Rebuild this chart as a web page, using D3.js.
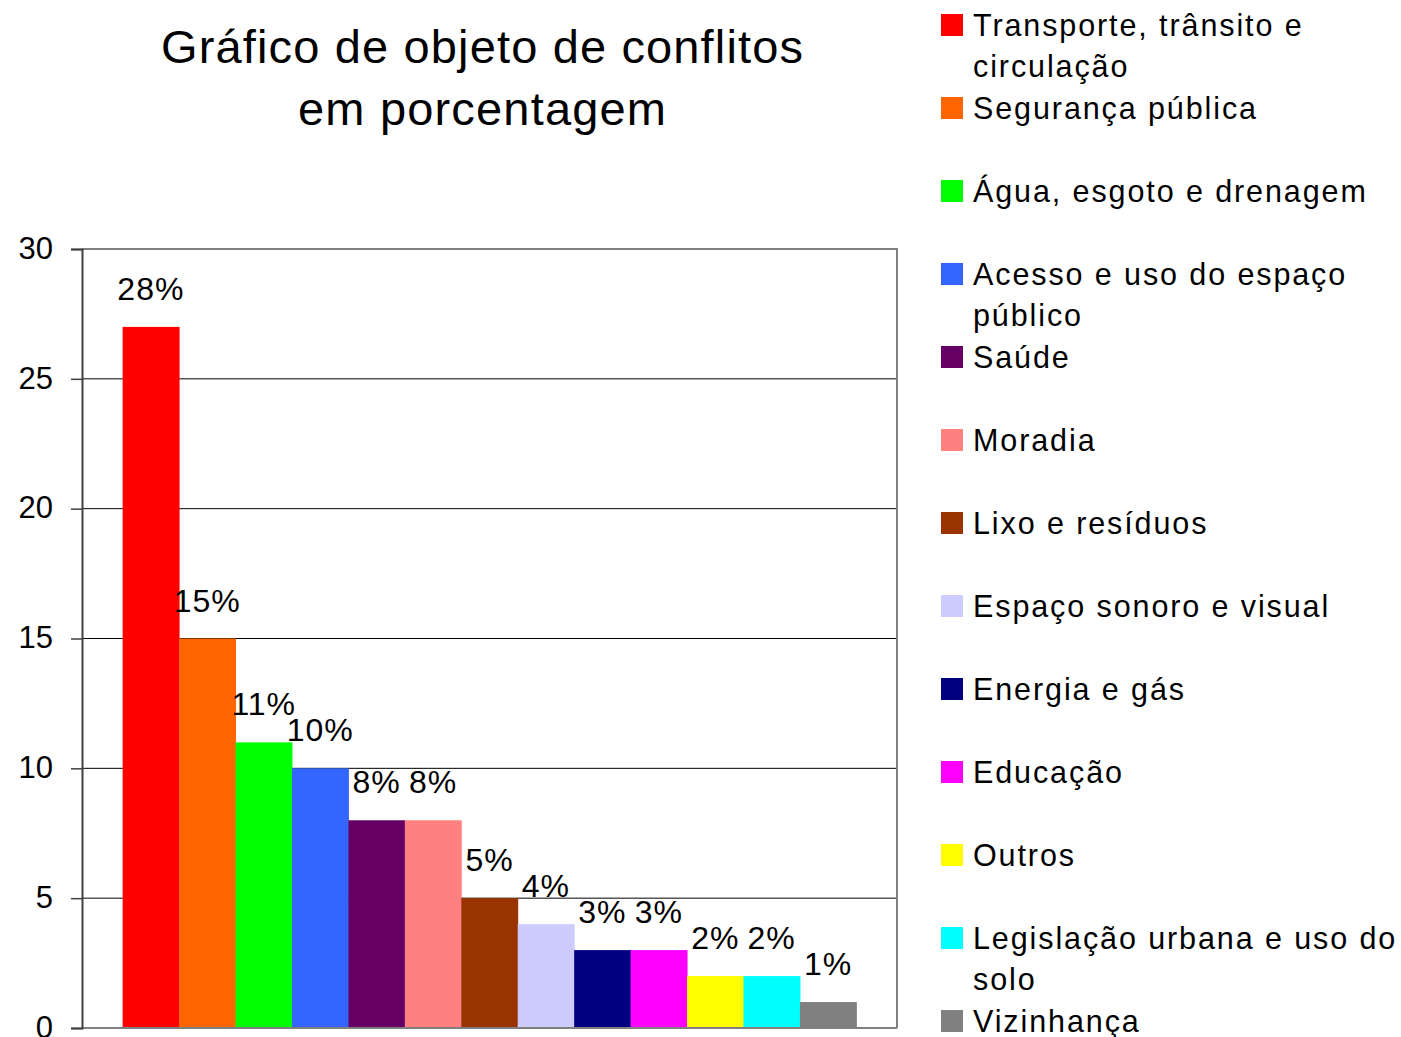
<!DOCTYPE html>
<html><head><meta charset="utf-8">
<script src="https://cdnjs.cloudflare.com/ajax/libs/d3/7.8.5/d3.min.js"></script>
<style>body{margin:0;background:#fff}svg{display:block;font-family:"Liberation Sans",Arial,sans-serif}</style>
</head><body><svg id="c" width="1401" height="1037"></svg>
<script>
const categories = ["Transporte, trânsito e circulação","Segurança pública","Água, esgoto e drenagem","Acesso e uso do espaço público","Saúde","Moradia","Lixo e resíduos","Espaço sonoro e visual","Energia e gás","Educação","Outros","Legislação urbana e uso do solo","Vizinhança"];
const values = [27,15,11,10,8,8,5,4,3,3,2,2,1];
const labels = ["28%","15%","11%","10%","8%","8%","5%","4%","3%","3%","2%","2%","1%"];
const colors = ["#FF0000","#FF6600","#00FF00","#3366FF","#660066","#FF8080","#993300","#CCCCFF","#000080","#FF00FF","#FFFF00","#00FFFF","#808080"];
const legendLines = [["Transporte, trânsito e","circulação"],["Segurança pública"],["Água, esgoto e drenagem"],["Acesso e uso do espaço","público"],["Saúde"],["Moradia"],["Lixo e resíduos"],["Espaço sonoro e visual"],["Energia e gás"],["Educação"],["Outros"],["Legislação urbana e uso do","solo"],["Vizinhança"]];
const yTicks = [0,5,10,15,20,25,30];
const titleLines = ["Gráfico de objeto de conflitos","em porcentagem"];

const svg = d3.select("#c");
const L=82, R=897, T=249, B=1028;
const x = d3.scaleBand().domain(categories).range([L,R]).paddingInner(0).paddingOuter(0.72);
const y = d3.scaleLinear().domain([0,30]).range([B,T]);

// gridlines
svg.append("g").selectAll("line").data(yTicks.filter(d=>d>0&&d<30)).join("line")
  .attr("x1",L).attr("x2",R).attr("y1",d=>y(d)).attr("y2",d=>y(d)).attr("stroke","#000").attr("stroke-width",1);

// bars
svg.append("g").selectAll("rect").data(values).join("rect")
  .attr("x",(d,i)=>x(categories[i])).attr("width",x.bandwidth()+0.5)
  .attr("y",d=>y(d)).attr("height",d=>B-y(d)).attr("fill",(d,i)=>colors[i]);

// frame
svg.append("path").attr("d",`M${L},${T}H${R}V${B}`).attr("fill","none").attr("stroke","#808080").attr("stroke-width",2);
svg.append("line").attr("x1",L).attr("x2",R).attr("y1",B).attr("y2",B).attr("stroke","#808080").attr("stroke-width",2);

// y axis
const ax = d3.axisLeft(y).tickValues(yTicks).tickSize(11).tickPadding(18).tickFormat(d3.format("d"));
const g = svg.append("g").attr("transform",`translate(${L},0)`).call(ax);
g.select(".domain").attr("stroke","#404040").attr("stroke-width",2);
g.selectAll(".tick line").attr("stroke","#404040").attr("stroke-width",1.5);
g.selectAll(".tick text").attr("font-size",31).attr("font-family","Liberation Sans, Arial, sans-serif").attr("fill","#000").attr("dy","0.3em");

// value labels
svg.append("g").selectAll("text").data(values).join("text")
  .attr("x",(d,i)=>x(categories[i])+x.bandwidth()/2).attr("y",d=>y(d)-27)
  .attr("text-anchor","middle").attr("font-size",32).attr("letter-spacing",1).text((d,i)=>labels[i]);

// title
const titleWidths = [642,368];
svg.append("g").selectAll("text").data(titleLines).join("text")
  .attr("x",(d,i)=>482-titleWidths[i]/2).attr("y",(d,i)=>63+i*62).attr("font-size",47)
  .attr("textLength",(d,i)=>titleWidths[i]).attr("lengthAdjust","spacing")
  .text(d=>d);

// legend
const lg = svg.append("g");
legendLines.forEach((lines,i)=>{
  const cy = 25 + i*83;
  lg.append("rect").attr("x",941).attr("y",cy-11).attr("width",22).attr("height",22).attr("fill",colors[i]);
  lines.forEach((t,j)=>{
    lg.append("text").attr("x",973).attr("y",cy+11+j*41).attr("font-size",30.5).attr("letter-spacing",1.9).text(t);
  });
});
</script></body></html>
